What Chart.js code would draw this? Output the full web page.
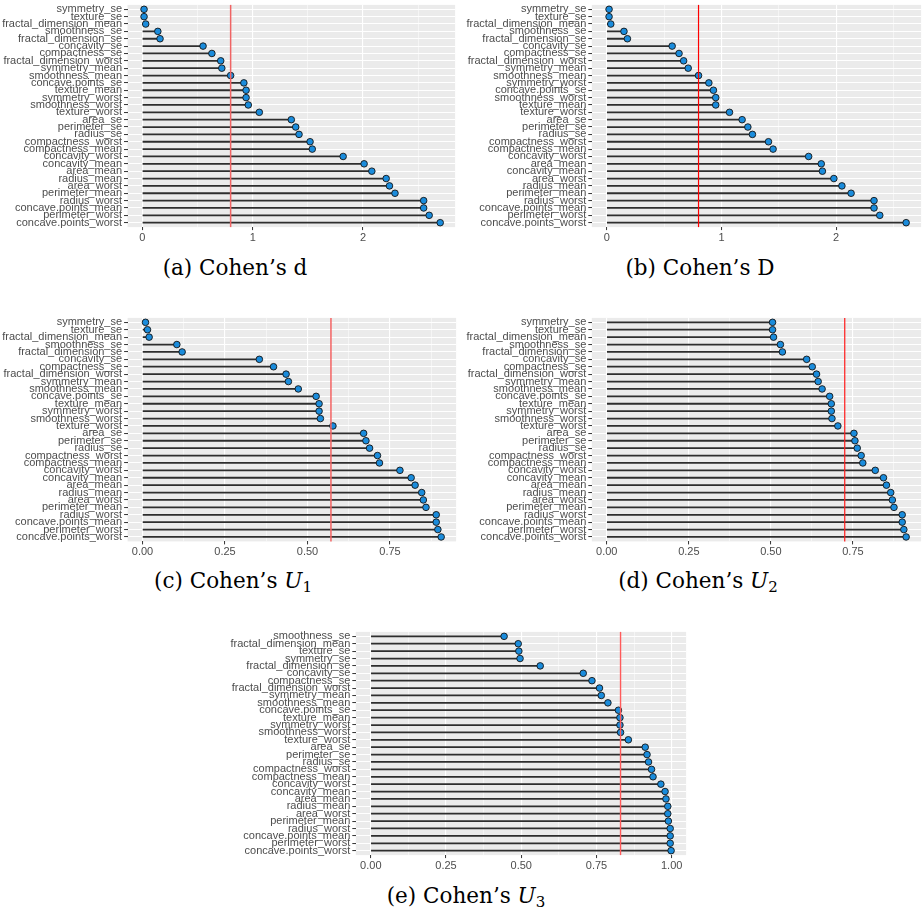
<!DOCTYPE html>
<html>
<head>
<meta charset="utf-8">
<script src="https://cdn.jsdelivr.net/npm/chart.js@4.4.1/dist/chart.umd.min.js"></script>
<style>
html, body { margin:0; padding:0; background:#fff; }
body { position:relative; width:923px; height:915px; overflow:hidden; }
canvas { position:absolute; }
.cap { position:absolute; width:300px; text-align:center; white-space:nowrap;
  font-family:"DejaVu Serif", "Liberation Serif", serif; font-size:21.5px; line-height:24px; color:#000; }
.cap sub { font-size:15px; line-height:0; vertical-align:-4px; }
</style>
</head>
<body>
<div class="cap" style="left:85px;top:256px;">(a) Cohen’s d</div>
<div class="cap" style="left:550px;top:256px;">(b) Cohen’s D</div>
<div class="cap" style="left:83px;top:569px;">(c) Cohen’s <i>U</i><sub>1</sub></div>
<div class="cap" style="left:548px;top:569px;">(d) Cohen’s <i>U</i><sub>2</sub></div>
<div class="cap" style="left:316px;top:884px;">(e) Cohen’s <i>U</i><sub>3</sub></div>
<script>
// feature order used by (a), (c) and (d), top to bottom
const catsMain = ["symmetry_se","texture_se","fractal_dimension_mean","smoothness_se","fractal_dimension_se",
  "concavity_se","compactness_se","fractal_dimension_worst","symmetry_mean","smoothness_mean",
  "concave.points_se","texture_mean","symmetry_worst","smoothness_worst","texture_worst",
  "area_se","perimeter_se","radius_se","compactness_worst","compactness_mean",
  "concavity_worst","concavity_mean","area_mean","radius_mean","area_worst",
  "perimeter_mean","radius_worst","concave.points_mean","perimeter_worst","concave.points_worst"];

const cohenD = [0.015,0.015,0.03,0.14,0.16, 0.55,0.63,0.71,0.72,0.80,
  0.92,0.94,0.94,0.96,1.06, 1.35,1.39,1.42,1.52,1.54,
  1.82,2.01,2.08,2.21,2.24, 2.29,2.55,2.55,2.60,2.70];

const cohenU1 = [0.009,0.015,0.02,0.104,0.12, 0.354,0.397,0.435,0.442,0.472,
  0.526,0.535,0.535,0.539,0.577, 0.670,0.677,0.688,0.712,0.718,
  0.780,0.814,0.826,0.846,0.851, 0.859,0.890,0.890,0.895,0.905];

const cohenU2 = [0.505,0.505,0.508,0.529,0.535, 0.609,0.626,0.639,0.644,0.656,
  0.679,0.684,0.684,0.686,0.704, 0.753,0.756,0.763,0.775,0.780,
  0.818,0.843,0.852,0.865,0.870, 0.875,0.900,0.900,0.905,0.912];

// (b) has its own order
const catsBigD = ["symmetry_se","texture_se","fractal_dimension_mean","smoothness_se","fractal_dimension_se",
  "concavity_se","compactness_se","fractal_dimension_worst","symmetry_mean","smoothness_mean",
  "symmetry_worst","concave.points_se","smoothness_worst","texture_mean","texture_worst",
  "area_se","perimeter_se","radius_se","compactness_worst","compactness_mean",
  "concavity_worst","area_mean","concavity_mean","area_worst","radius_mean",
  "perimeter_mean","radius_worst","concave.points_mean","perimeter_worst","concave.points_worst"];

const cohenBigD = [0.02,0.02,0.035,0.15,0.18, 0.57,0.63,0.67,0.71,0.80,
  0.89,0.93,0.95,0.95,1.07, 1.18,1.23,1.27,1.41,1.45,
  1.76,1.87,1.88,1.98,2.05, 2.13,2.33,2.33,2.38,2.61];

// (e) has its own order too
const catsU3 = ["smoothness_se","fractal_dimension_mean","texture_se","symmetry_se","fractal_dimension_se",
  "concavity_se","compactness_se","fractal_dimension_worst","symmetry_mean","smoothness_mean",
  "concave.points_se","texture_mean","symmetry_worst","smoothness_worst","texture_worst",
  "area_se","perimeter_se","radius_se","compactness_worst","compactness_mean",
  "concavity_worst","concavity_mean","area_mean","radius_mean","area_worst",
  "perimeter_mean","radius_worst","concave.points_mean","perimeter_worst","concave.points_worst"];

const cohenU3 = [0.443,0.490,0.492,0.496,0.563, 0.706,0.735,0.760,0.766,0.788,
  0.823,0.828,0.828,0.830,0.856, 0.912,0.918,0.923,0.933,0.938,
  0.964,0.978,0.981,0.987,0.987, 0.989,0.995,0.995,0.995,0.998];

const ticksD = [0, 1, 2];
const tickLabelsD = ["0", "1", "2"];
const ticksU = [0, 0.25, 0.5, 0.75];
const tickLabelsU = ["0.00", "0.25", "0.50", "0.75"];
const ticksU3 = [0, 0.25, 0.5, 0.75, 1];
const tickLabelsU3 = ["0.00", "0.25", "0.50", "0.75", "1.00"];

const thresholds = [0.8, 0.8, 0.571, 0.725, 0.83];

const TXT = "#4D4D4D";

function panel(o){
  const cv = document.createElement("canvas");
  cv.width = o.w; cv.height = o.h;
  cv.style.left = o.left + "px"; cv.style.top = o.top + "px";
  cv.style.width = o.w + "px"; cv.style.height = o.h + "px";
  document.body.appendChild(cv);

  // ggplot style limits: data range incl. 0, expanded by 5%
  const lo = Math.min(0, ...o.vals), hi = Math.max(...o.vals);
  const pad = (hi - lo) * 0.05;
  const xmin = lo - pad, xmax = hi + pad;

  // minor breaks halfway between majors
  const step = o.ticks[1] - o.ticks[0];
  const minors = [];
  for (let i = 0; i < o.ticks.length; i++){
    const m = o.ticks[i] + step / 2;
    if (m < xmax) minors.push(m);
  }
  const isMajor = (v) => o.ticks.some(t => Math.abs(t - v) < 1e-9);

  const pts = o.vals.map((v, i) => ({ x: v, y: i }));

  const bgPlugin = {
    id: "panelBg",
    beforeDraw(chart){
      const { ctx, chartArea: a } = chart;
      ctx.save();
      ctx.fillStyle = "#EBEBEB";
      ctx.fillRect(a.left, a.top, a.right - a.left, a.bottom - a.top);
      ctx.restore();
    }
  };
  const refLine = {
    id: "refLine",
    afterDatasetsDraw(chart){
      const { ctx, chartArea: a, scales } = chart;
      const x = scales.x.getPixelForValue(o.thr);
      ctx.save();
      ctx.strokeStyle = o.red;
      ctx.lineWidth = o.redW;
      ctx.beginPath();
      ctx.moveTo(x, a.top);
      ctx.lineTo(x, a.bottom);
      ctx.stroke();
      ctx.restore();
    }
  };

  new Chart(cv.getContext("2d"), {
    type: "bar",
    data: {
      datasets: [
        {
          type: "bar",
          indexAxis: "y",
          data: pts,
          backgroundColor: "#2E2E2E",
          borderWidth: 0,
          barThickness: 1.1,
          order: 2
        },
        {
          type: "line",
          indexAxis: "y",
          data: pts,
          showLine: false,
          pointRadius: 3.3,
          pointBorderWidth: 0.9,
          pointBorderColor: "#141414",
          pointBackgroundColor: "#1A8CDC",
          order: 1
        }
      ]
    },
    options: {
      indexAxis: "y",
      responsive: false,
      animation: false,
      events: [],
      devicePixelRatio: 1,
      layout: { padding: { top: o.plotTop, right: o.w - o.plotRight, left: 0, bottom: 0 } },
      plugins: { legend: { display: false }, tooltip: { enabled: false } },
      scales: {
        x: {
          type: "linear",
          min: xmin, max: xmax,
          border: { display: false },
          afterBuildTicks(axis){
            axis.ticks = [...o.ticks, ...minors].sort((a, b) => a - b).map(v => ({ value: v }));
          },
          afterFit(axis){
            axis.height = o.h - o.plotBottom;
            axis.paddingLeft = 0; axis.paddingRight = 0;
          },
          grid: {
            color: "#FFFFFF",
            lineWidth: (c) => isMajor(c.tick.value) ? 1.1 : 0.5,
            tickColor: (c) => isMajor(c.tick.value) ? "#333333" : "rgba(0,0,0,0)",
            tickLength: 3,
            tickWidth: 1
          },
          ticks: {
            autoSkip: false,
            maxRotation: 0,
            padding: 1,
            color: TXT,
            font: { family: "Liberation Sans, Arial, sans-serif", size: 11 },
            callback: (v) => {
              const k = o.ticks.findIndex(t => Math.abs(t - v) < 1e-9);
              return k >= 0 ? o.tickLabels[k] : "";
            }
          }
        },
        y: {
          type: "linear",
          reverse: true,
          offset: false,
          min: -0.6, max: o.cats.length - 1 + 0.6,
          border: { display: false },
          afterBuildTicks(axis){
            axis.ticks = o.cats.map((c, i) => ({ value: i }));
          },
          afterFit(axis){
            axis.width = o.plotLeft;
            axis.paddingTop = 0; axis.paddingBottom = 0;
          },
          grid: {
            offset: false,
            color: "#FFFFFF",
            lineWidth: 1.1,
            tickColor: "#333333",
            tickLength: 3.5,
            tickWidth: 1
          },
          ticks: {
            autoSkip: false,
            padding: 2,
            color: TXT,
            font: { family: "Liberation Sans, Arial, sans-serif", size: 11 },
            callback: (v) => o.cats[Math.round(v)] ?? ""
          }
        }
      }
    },
    plugins: [bgPlugin, refLine]
  });
}

panel({ left: 0, top: 0, w: 460, h: 250, plotLeft: 127.5, plotTop: 3.6, plotBottom: 227.1, plotRight: 460,
  cats: catsMain, vals: cohenD, ticks: ticksD, tickLabels: tickLabelsD, thr: thresholds[0], red: "#F06464", redW: 1.5 });
panel({ left: 463, top: 0, w: 463, h: 250, plotLeft: 128.8, plotTop: 3.6, plotBottom: 227.1, plotRight: 462.5,
  cats: catsBigD, vals: cohenBigD, ticks: ticksD, tickLabels: tickLabelsD, thr: thresholds[1], red: "#FF0000", redW: 1.2 });
panel({ left: 0, top: 310, w: 461, h: 255, plotLeft: 127.6, plotTop: 7.9, plotBottom: 231.4, plotRight: 460.7,
  cats: catsMain, vals: cohenU1, ticks: ticksU, tickLabels: tickLabelsU, thr: thresholds[2], red: "#F46464", redW: 1.5 });
panel({ left: 463, top: 310, w: 463, h: 255, plotLeft: 128.8, plotTop: 7.9, plotBottom: 231.4, plotRight: 462.8,
  cats: catsMain, vals: cohenU2, ticks: ticksU, tickLabels: tickLabelsU, thr: thresholds[3], red: "#FF1A1A", redW: 1.2 });
panel({ left: 220, top: 625, w: 471, h: 255, plotLeft: 135.8, plotTop: 6.9, plotBottom: 230.1, plotRight: 470.3,
  cats: catsU3, vals: cohenU3, ticks: ticksU3, tickLabels: tickLabelsU3, thr: thresholds[4], red: "#FF5A5A", redW: 1.4 });
</script>
</body>
</html>
